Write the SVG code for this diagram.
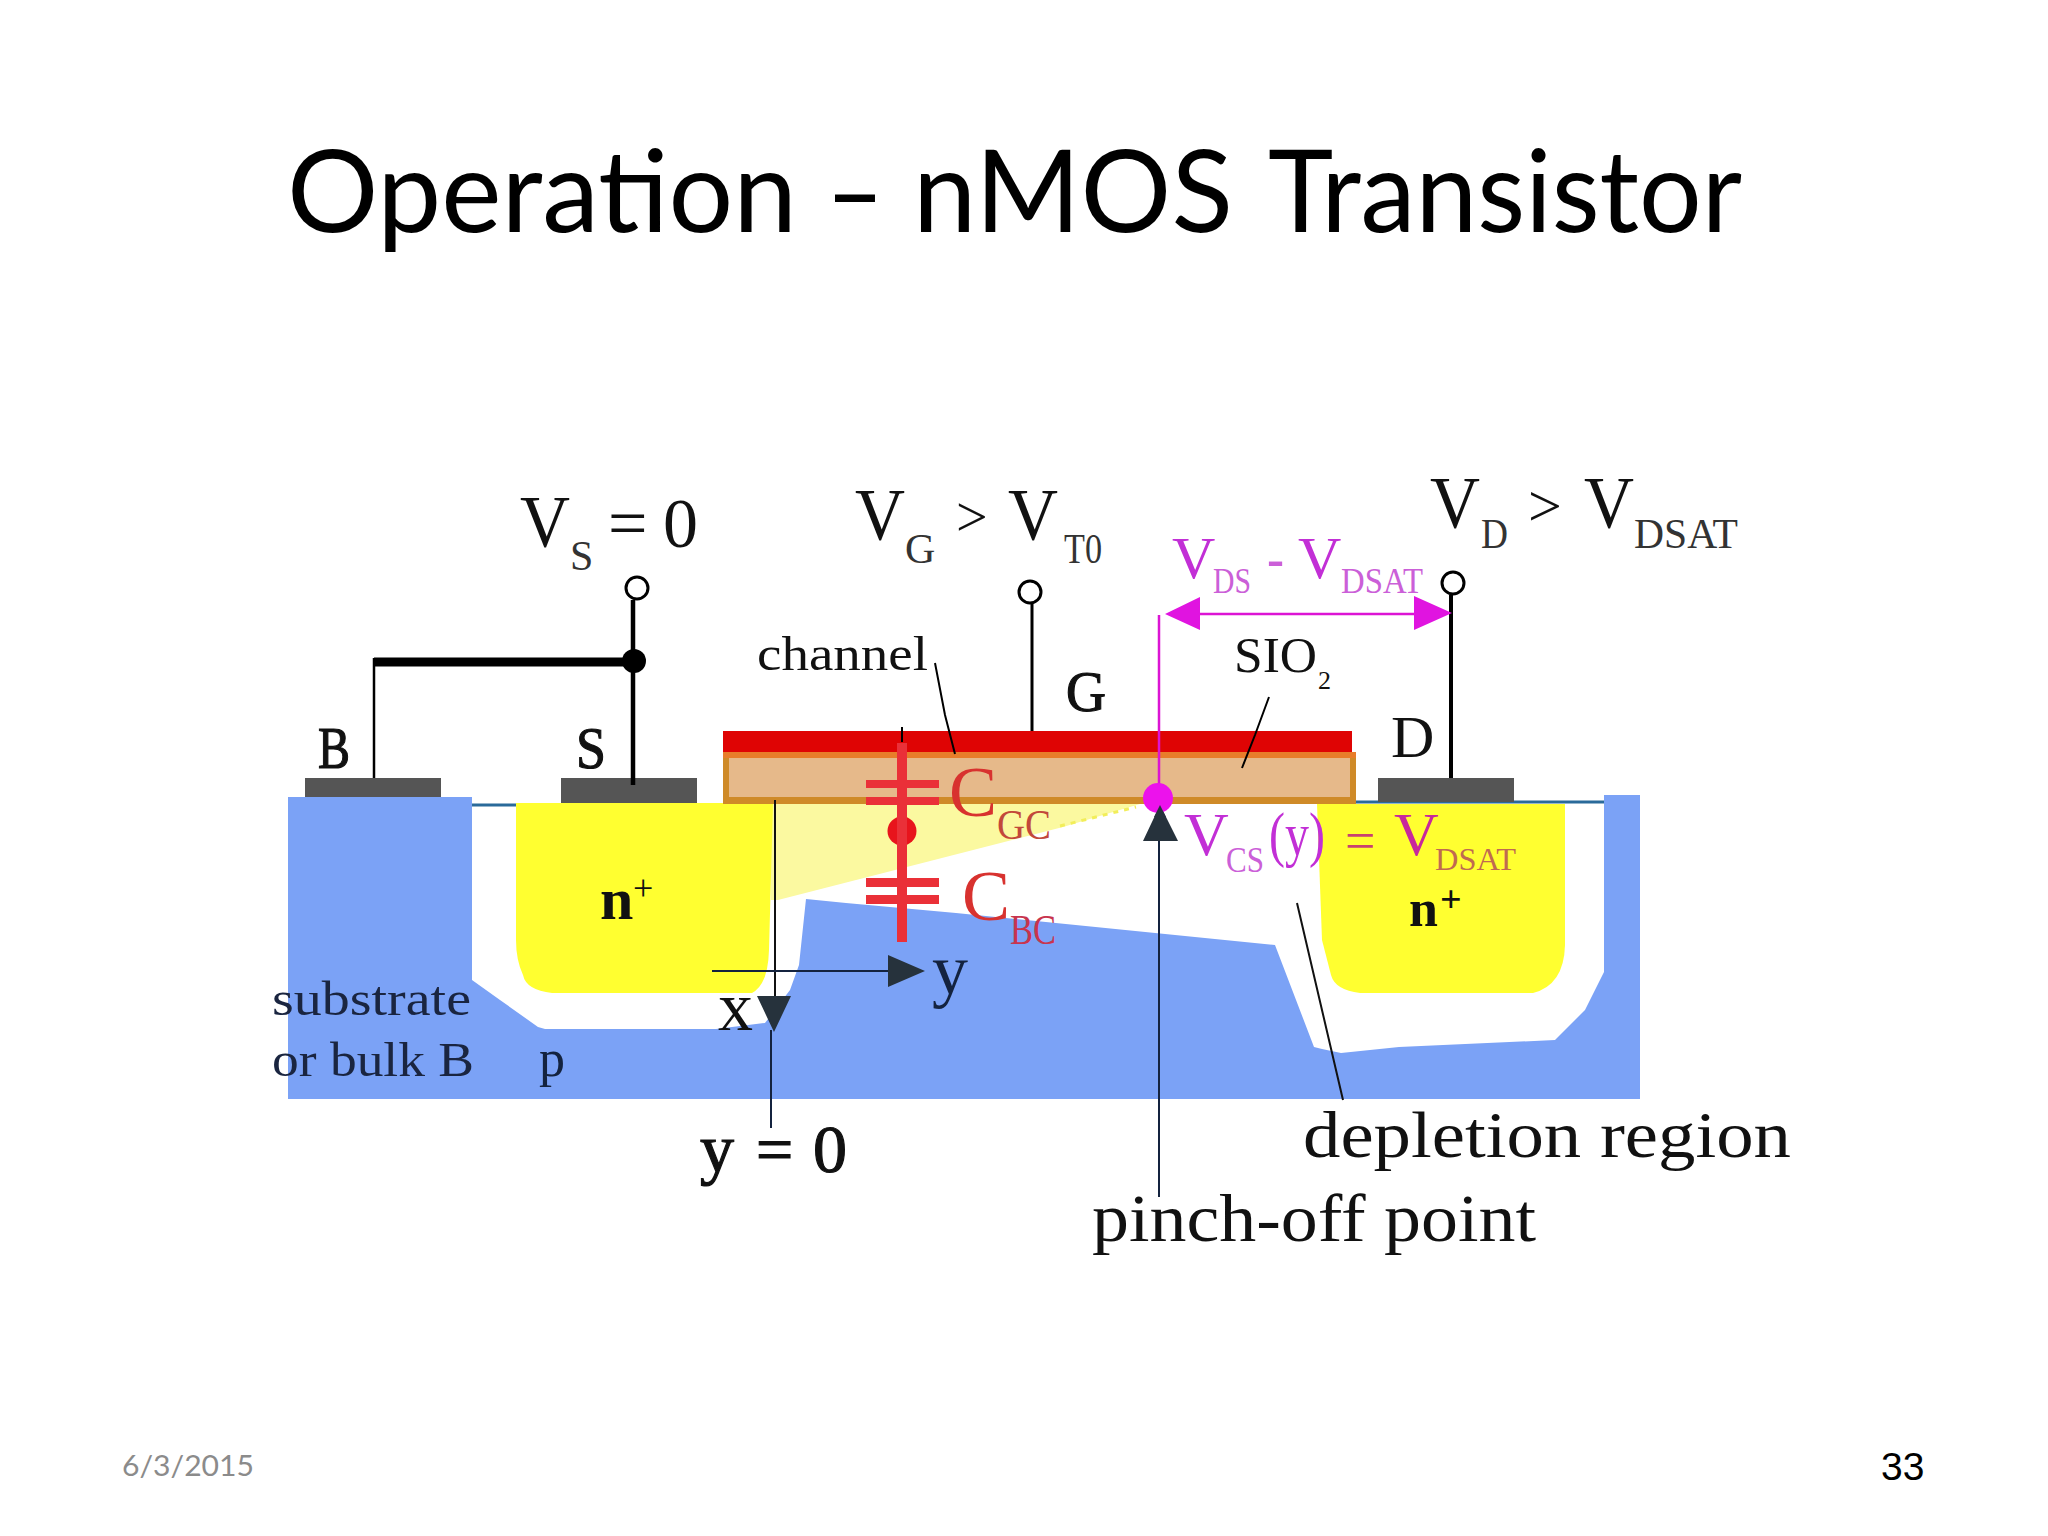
<svg xmlns="http://www.w3.org/2000/svg" width="2048" height="1536" viewBox="0 0 2048 1536">
<style>
text{font-family:"Liberation Serif","Times New Roman",serif;fill:#111}
.ui{font-family:Lato,"Liberation Sans",sans-serif}
.bold{font-weight:bold}
.semi{stroke:#111;stroke-width:1.2}
.mag{fill:#c22fd6}
.magsub{fill:#cb5fd8}
.red{fill:#d8322f}
.redsub{fill:#c2483a}
.wire{stroke:#000;fill:none}
.term{fill:#fff;stroke:#000;stroke-width:3}
.contact{fill:#555}
.plate{fill:#ea3038}
.arrow{fill:#26323c}
.axis{stroke:#14233f;fill:none;stroke-width:2}
</style>
<rect width="2048" height="1536" fill="#fff"/>
<text class="ui" y="232" font-size="114" style="fill:#000"><tspan x="287" textLength="510" lengthAdjust="spacingAndGlyphs">Operation</tspan> <tspan x="826" textLength="58" lengthAdjust="spacingAndGlyphs">–</tspan> <tspan x="913" textLength="320" lengthAdjust="spacingAndGlyphs">nMOS</tspan> <tspan x="1268" textLength="474" lengthAdjust="spacingAndGlyphs">Transistor</tspan></text>

<g id="substrate">
<path fill="#7ba2f6" d="M288 797H472V980L500 1000L538 1027L545 1029H716L765 1023L790 990L799 965L806 899L846 903L956 913L1275 945L1314 1047L1322 1049L1341 1053L1399 1047L1555 1040L1585 1010L1604 972V795H1640V1099H288Z"/>
<path stroke="#2a6a9a" stroke-width="3" fill="none" d="M472 805H516M1356 802H1604"/>
</g>
<g id="channel-region"><path fill="#fbf9a0" d="M771 804H1140L1063 827L778 900L771 900Z"/><path fill="none" stroke="#f2ee5a" stroke-width="3" stroke-dasharray="5 6" d="M1060 826L1136 807"/></g>
<g id="source-region"><path fill="#ffff30" d="M516 803H773L769 950Q768 985 752 993H552Q526 990 523 975Q516 960 516 940Z"/></g>
<g id="drain-region"><path fill="#ffff30" d="M1317 804H1565V945Q1564 985 1533 993H1360Q1335 990 1331 975L1322 940Z"/></g>
<g id="oxide"><rect x="725" y="755" width="629" height="46" fill="#e6b98a"/><path fill="#cf8a28" d="M723 797H1356V804H723Z"/><path fill="#cf8a28" d="M723 752H729V804H723ZM1350 752H1356V804H1350Z"/><rect x="723" y="752" width="633" height="6" fill="#e87d2a"/></g>
<g id="gate"><rect x="723" y="731" width="629" height="21" fill="#df0404"/></g>
<g id="contacts">
<rect class="contact" x="305" y="778" width="136" height="19"/>
<rect class="contact" x="561" y="778" width="136" height="25"/>
<rect class="contact" x="1378" y="778" width="136" height="24"/>
</g>

<g id="connectors">
<path class="wire" stroke-width="2.5" d="M374 658V778"/>
<path class="wire" stroke-width="9" d="M374 662H634"/>
<path class="wire" stroke-width="4.5" d="M633 600V785"/>
<circle cx="634" cy="661" r="12" fill="#000"/>
<circle class="term" cx="637" cy="588" r="11"/>
<path class="wire" stroke-width="3" d="M1032 603V731"/>
<circle class="term" cx="1030" cy="592" r="11"/>
<path class="wire" stroke-width="4" d="M1451 595V778"/>
<circle class="term" cx="1453" cy="583" r="11"/>
<path class="wire" stroke-width="2" d="M935 663L945 715L955 754M1269 697L1255 735L1242 768M902 727V742"/>
<path stroke="#111" stroke-width="2" fill="none" d="M775 800V996M1297 903L1343 1100"/>
<path class="axis" d="M771 1030V1128M712 971H890M1159 841V1197"/>
<path class="arrow" d="M888 955L925 971L888 987ZM757 996H791L774 1032ZM1160 805L1178 841H1143Z"/>
<path stroke="#dc14d4" stroke-width="2.5" fill="none" d="M1159 615V793M1200 614H1416"/>
<path fill="#e014e0" d="M1165 614L1200 597V630ZM1452 613L1414 596V630Z"/>
<circle cx="1158" cy="798" r="15" fill="#ec12ec"/>
<path fill="#26323c" d="M1160 805L1166 817H1154Z"/>
</g>

<g id="capacitors">
<rect class="plate" x="897" y="743" width="10" height="199"/>
<rect class="plate" x="866" y="780" width="73" height="8"/>
<rect class="plate" x="866" y="797" width="73" height="8"/>
<rect class="plate" x="866" y="878" width="73" height="9"/>
<rect class="plate" x="866" y="895" width="73" height="9"/>
<circle cx="902" cy="831" r="14.5" fill="#e8141c"/>
<rect class="plate" x="897" y="816" width="10" height="30"/>
<text class="red" x="949" y="816" font-size="72">C</text>
<text class="redsub" x="997" y="839" font-size="43" textLength="54" lengthAdjust="spacingAndGlyphs">GC</text>
<text class="red" x="962" y="920" font-size="72">C</text>
<text class="redsub" x="1010" y="944" font-size="43" textLength="46" lengthAdjust="spacingAndGlyphs" style="fill:#c8344e">BC</text>
</g>

<g id="labels">
<text x="520" y="547" font-size="74" textLength="50" lengthAdjust="spacingAndGlyphs">V</text>
<text x="570" y="570" font-size="42" style="fill:#333">S</text>
<text x="608" y="547" font-size="70">=</text>
<text x="663" y="547" font-size="70">0</text>

<text x="855" y="540" font-size="74" textLength="50" lengthAdjust="spacingAndGlyphs">V</text>
<text x="905" y="563" font-size="42" style="fill:#333">G</text>
<text x="956" y="536" font-size="56">&gt;</text>
<text x="1008" y="540" font-size="74" textLength="50" lengthAdjust="spacingAndGlyphs">V</text>
<text x="1064" y="563" font-size="42" textLength="38" lengthAdjust="spacingAndGlyphs" style="fill:#333">T0</text>

<text x="1430" y="528" font-size="74" textLength="50" lengthAdjust="spacingAndGlyphs">V</text>
<text x="1481" y="548" font-size="42" textLength="27" lengthAdjust="spacingAndGlyphs" style="fill:#333">D</text>
<text x="1528" y="526" font-size="60">&gt;</text>
<text x="1584" y="528" font-size="74" textLength="50" lengthAdjust="spacingAndGlyphs">V</text>
<text x="1634" y="548" font-size="42" textLength="104" lengthAdjust="spacingAndGlyphs" style="fill:#333">DSAT</text>

<text class="mag" x="1172" y="578" font-size="60">V</text>
<text class="magsub" x="1213" y="593" font-size="35" textLength="38" lengthAdjust="spacingAndGlyphs">DS</text>
<text class="magsub" x="1267" y="578" font-size="60" textLength="17" lengthAdjust="spacingAndGlyphs">-</text>
<text class="mag" x="1298" y="578" font-size="60">V</text>
<text class="magsub" x="1341" y="593" font-size="35" textLength="82" lengthAdjust="spacingAndGlyphs">DSAT</text>

<text x="1234" y="672" font-size="50" textLength="83" lengthAdjust="spacingAndGlyphs">SIO</text>
<text x="1318" y="689" font-size="26">2</text>
<text x="757" y="670" font-size="48" textLength="171" lengthAdjust="spacingAndGlyphs">channel</text>
<text class="semi" x="1066" y="711" font-size="58" textLength="40" lengthAdjust="spacingAndGlyphs">G</text>
<text x="1391" y="757" font-size="60">D</text>
<text class="semi" x="318" y="768" font-size="60" textLength="32" lengthAdjust="spacingAndGlyphs">B</text>
<text class="semi" x="576" y="768" font-size="60" textLength="30" lengthAdjust="spacingAndGlyphs">S</text>

<text class="bold" x="600" y="919" font-size="60">n</text>
<text x="633" y="900" font-size="36">+</text>
<text class="bold" x="1409" y="926" font-size="52">n</text>
<text class="bold" x="1440" y="912" font-size="38">+</text>

<text class="mag" x="1184" y="855" font-size="62">V</text>
<text class="magsub" x="1226" y="872" font-size="36" textLength="38" lengthAdjust="spacingAndGlyphs">CS</text>
<text class="mag" x="1269" y="855" font-size="62" textLength="56" lengthAdjust="spacingAndGlyphs">(y)</text>
<text x="1345" y="859" font-size="54" style="fill:#c84070">=</text>
<text x="1394" y="855" font-size="62" style="fill:#c8289c">V</text>
<text x="1435" y="870" font-size="32" textLength="81" lengthAdjust="spacingAndGlyphs" style="fill:#c06a50">DSAT</text>

<text x="932" y="994" font-size="72" style="fill:#14233f">y</text>
<text x="718" y="1030" font-size="70">x</text>
<text class="semi" x="700" y="1172" font-size="68">y</text>
<text class="semi" x="756" y="1172" font-size="66">=</text>
<text class="semi" x="813" y="1172" font-size="68">0</text>
<text x="272" y="1015" font-size="48" textLength="199" lengthAdjust="spacingAndGlyphs" style="fill:#1a2540">substrate</text>
<text x="272" y="1076" font-size="48" textLength="202" lengthAdjust="spacingAndGlyphs" style="fill:#1a2540">or bulk B</text>
<text x="539" y="1076" font-size="52" style="fill:#14233f">p</text>
<text x="1303" y="1157" font-size="66" textLength="488" lengthAdjust="spacingAndGlyphs">depletion region</text>
<text x="1092" y="1241" font-size="68" textLength="444" lengthAdjust="spacingAndGlyphs">pinch-off point</text>
</g>

<text class="ui" x="122" y="1476" font-size="29" textLength="132" lengthAdjust="spacingAndGlyphs" style="fill:#8b8b8b">6/3/2015</text>
<text x="1881" y="1480" font-size="39" style="font-family:'Liberation Sans',Arial,sans-serif;fill:#000">33</text>
</svg>
